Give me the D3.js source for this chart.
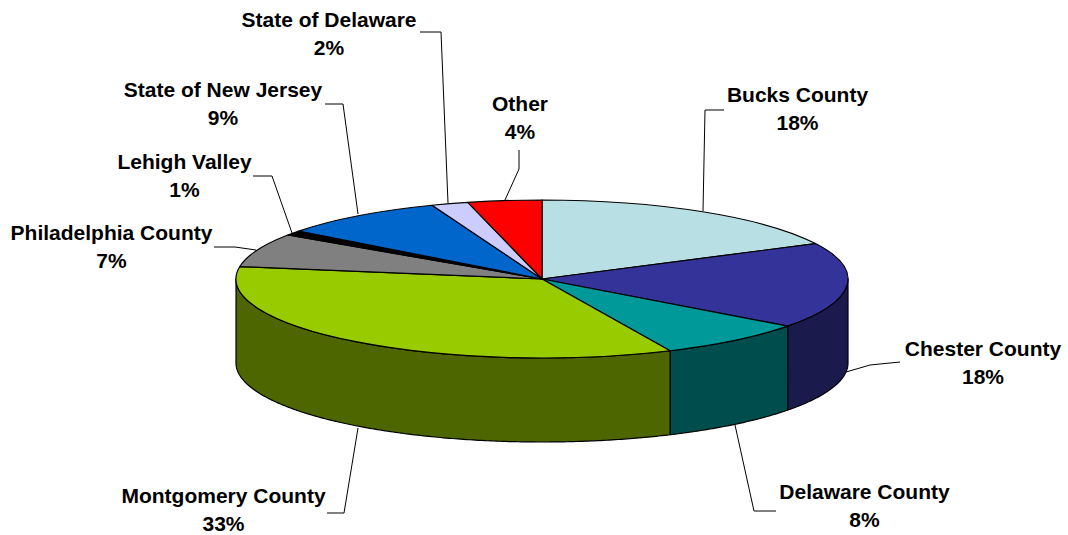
<!DOCTYPE html>
<html>
<head>
<meta charset="utf-8">
<style>
  html, body { margin: 0; padding: 0; background: #fff; }
  svg { display: block; }
  text { font-family: "Liberation Sans", Arial, sans-serif; font-weight: 700; font-size: 21px; fill: #000; text-anchor: middle; }
</style>
<script src="https://cdn.jsdelivr.net/npm/d3@7/dist/d3.min.js"></script>
</head>
<body>
<svg id="chart" width="1068" height="535"></svg>
<script>
// Share of the total by region, clockwise from twelve o'clock.
const regions = ["Bucks County", "Chester County", "Delaware County", "Montgomery County",
  "Philadelphia County", "Lehigh Valley", "State of New Jersey", "State of Delaware", "Other"];
const shares = [18, 18, 8, 33, 7, 1, 9, 2, 4];
const topColors = ["#b8e0e4", "#333399", "#009999", "#99cc00", "#808080", "#000000", "#0066cc", "#ccccff", "#ff0000"];
const wallColors = ["#5c7072", "#1a1a4d", "#004d4d", "#4d6600", "#404040", "#000000", "#003366", "#666680", "#800000"];

// Disc geometry.
const W = 1068, H = 535;
const cx = 542, cy = 279, rx = 306, ry = 79, depth = 84;

// Label placement and leader routes, keyed by region name.
const labelLayout = {
  "Bucks County":        { x: 797.5, y: 102, leader: [[724, 110], [705, 110], [703, 211]] },
  "Chester County":      { x: 983, y: 356, leader: [[900, 362], [870, 365], [846, 372]] },
  "Delaware County":     { x: 864.5, y: 499, leader: [[776, 511], [754, 511], [735, 425]] },
  "Montgomery County":   { x: 223.5, y: 502.5, leader: [[327, 513], [344, 513], [358, 428]] },
  "Philadelphia County": { x: 111.5, y: 240, leader: [[214, 247], [235, 247], [256, 250]] },
  "Lehigh Valley":       { x: 184.5, y: 169, leader: [[253, 176], [272, 176], [292, 233]] },
  "State of New Jersey": { x: 223, y: 97,  leader: [[325, 104], [343, 104], [358, 214]] },
  "State of Delaware":   { x: 329, y: 27,  leader: [[420, 32], [441, 32], [448, 203]] },
  "Other":               { x: 520, y: 111, leader: [[519, 150], [519, 169], [505, 200]] }
};

const svg = d3.select("#chart").attr("viewBox", [0, 0, W, H]);

// The tilted disc foreshortens unevenly, so pie angles pass through this
// scale before they are drawn.
const deg = d => d * Math.PI / 180;
const tilt = d3.scaleLinear()
  .domain([0, 90, 150, 280, 360].map(deg))
  .range([0, 88, 146.5, 282, 360].map(deg));

const slices = d3.pie().sort(null).value(d => d)(shares)
  .map(s => ({ ...s, startAngle: tilt(s.startAngle), endAngle: tilt(s.endAngle) }));

// Rim positions in page coordinates for an angle measured clockwise from the top.
const xRim = d3.scaleLinear().domain([-1, 1]).range([cx - rx, cx + rx]);
const yRim = d3.scaleLinear().domain([-1, 1]).range([cy + ry, cy - ry]);
const rimPoint = (a, drop) => [xRim(Math.sin(a)), yRim(Math.cos(a)) + drop];

// Walls: only the part of each slice that faces the viewer, between 3 and 9 o'clock.
const frontStart = Math.PI / 2, frontEnd = 3 * Math.PI / 2;
const wallPath = d3.line();
const walls = svg.append("g");
slices.forEach((s, i) => {
  const a0 = Math.max(s.startAngle, frontStart);
  const a1 = Math.min(s.endAngle, frontEnd);
  if (a1 <= a0) return;
  const steps = d3.range(a0, a1, 0.01).concat([a1]);
  const outline = steps.map(a => rimPoint(a, 0))
    .concat(steps.slice().reverse().map(a => rimPoint(a, depth)));
  walls.append("path")
    .attr("d", wallPath(outline) + "Z")
    .attr("fill", wallColors[i])
    .attr("stroke", "#000")
    .attr("stroke-width", 1.2)
    .attr("stroke-linejoin", "round");
});

// Top face: ordinary pie arcs flattened into an ellipse.
const arc = d3.arc().innerRadius(0).outerRadius(rx);
svg.append("g")
  .attr("transform", `translate(${cx},${cy}) scale(1,${ry / rx})`)
  .selectAll("path")
  .data(slices)
  .join("path")
  .attr("d", arc)
  .attr("fill", (d, i) => topColors[i])
  .attr("stroke", "#000")
  .attr("stroke-width", 1.2)
  .attr("stroke-linejoin", "round")
  .attr("vector-effect", "non-scaling-stroke");

// Leaders.
const leaderPath = d3.line();
svg.append("g")
  .selectAll("path")
  .data(regions)
  .join("path")
  .attr("d", d => leaderPath(labelLayout[d].leader))
  .attr("fill", "none")
  .attr("stroke", "#000")
  .attr("stroke-width", 1);

// Two-line labels: region name above, share below.
const labels = svg.append("g")
  .selectAll("text")
  .data(regions)
  .join("text")
  .attr("x", d => labelLayout[d].x)
  .attr("y", d => labelLayout[d].y);
labels.append("tspan").text(d => d);
labels.append("tspan")
  .attr("x", d => labelLayout[d].x)
  .attr("dy", 28)
  .text((d, i) => shares[i] + "%");
</script>
</body>
</html>
